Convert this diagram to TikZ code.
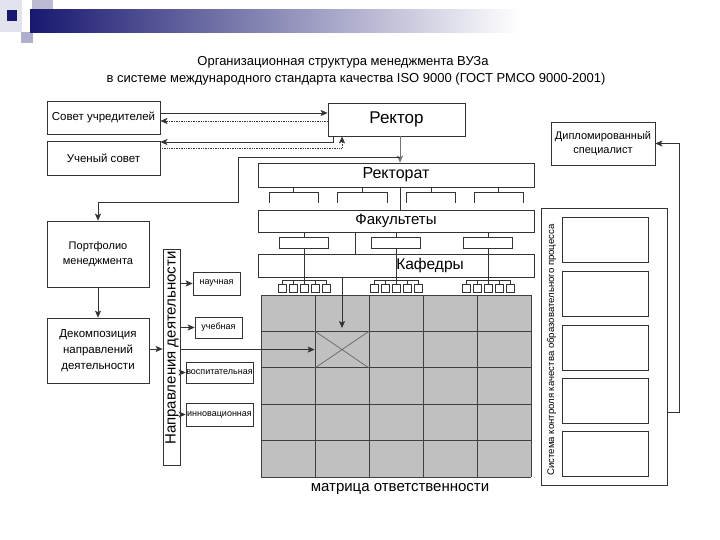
\documentclass[tikz,border=0pt]{standalone}
\usepackage{fontspec}
\setmainfont{Liberation Sans}
\usetikzlibrary{arrows.meta, calc}
\definecolor{deco}{RGB}{24,24,112}
\definecolor{cellgray}{RGB}{192,192,192}
\tikzset{
  box/.style={draw=black!80, line width=0.7pt, inner sep=0pt, align=center},
  band/.style={box, minimum width=276pt},
  tag/.style={box, font=\fontsize{9}{11}\selectfont},
  sq/.style={draw=black!80, line width=0.6pt, minimum size=8pt, inner sep=0pt},
}

\begin{document}
\begin{tikzpicture}[x=1pt, y=-1pt, >={Stealth[length=7pt,width=6pt,inset=1.5pt]}, line width=0.7pt, draw=black!80]
    \useasboundingbox (0,0) rectangle (720,540);

    % Header decoration
    \fill[deco!12] (0,0) rectangle (22,32);
    \fill[deco!30] (32,0) rectangle (53,22);
    \fill[deco!35] (21,32) rectangle (33,43);
    \shade[left color=deco, right color=white] (30,10) rectangle (520,33);
    \fill[deco] (7,10) rectangle (17,21);

    % Title
    \node[font=\fontsize{13}{15}\selectfont] (title1) at (343,62) {Организационная структура менеджмента ВУЗа};
    \node[font=\fontsize{13}{15}\selectfont] (title2) at (356,79) {в системе международного стандарта качества ISO 9000 (ГОСТ РМСО 9000-2001)};

    % Left column
    \node[box, minimum width=113pt, minimum height=33pt, font=\fontsize{11.5}{14}\selectfont] (council) at (103.5,117.5) {Совет учредителей};
    \node[box, minimum width=113pt, minimum height=34pt, font=\fontsize{11.5}{14}\selectfont] (scicouncil) at (103.5,158) {Ученый совет};
    \node[box, minimum width=102pt, minimum height=66pt, font=\fontsize{11}{15}\selectfont] (portfolio) at (98,254) {Портфолио\\менеджмента};
    \node[box, minimum width=102pt, minimum height=65pt, font=\fontsize{11.5}{16}\selectfont] (decomp) at (98,350.5) {Декомпозиция\\направлений\\деятельности};
    \node[box, minimum width=17pt, minimum height=216pt] (dirbar) at (171.5,357.5) {};
    \node[rotate=90, font=\fontsize{15}{17}\selectfont] (dirtext) at (172,348) {Направления деятельности};
    \node[tag, minimum width=47pt, minimum height=23pt] (sci) at (216.5,283.5) {научная};
    \node[tag, minimum width=47pt, minimum height=21pt] (edu) at (218.5,327.5) {учебная};
    \node[tag, minimum width=67pt, minimum height=21pt] (upbr) at (219.5,372.5) {воспитательная};
    \node[tag, minimum width=67pt, minimum height=23pt] (innov) at (219.5,414.5) {инновационная};

    % Rector and bands
    \node[box, minimum width=137pt, minimum height=33pt, font=\fontsize{17}{19}\selectfont] (rector) at (396.5,119.5) {Ректор};
    \node[band, minimum height=24pt, font=\fontsize{16}{18}\selectfont] (rectorate) at (396,175) {Ректорат};
    \node[band, minimum height=22pt, font=\fontsize{15}{17}\selectfont] (faculties) at (396,221) {Факультеты};
    \node[band, minimum height=23pt, font=\fontsize{15.5}{17}\selectfont] (chairs) at (396,265.5) {\hspace*{68pt}Кафедры};

    \foreach \a/\b/\c in {269/318/293, 337/387/362, 406/455/431, 474/523/498}
      \draw (\a,203) |- (\b,192) -- (\b,203) (\c,192) -- (rectorate.south -| \c,0);
    \draw (rectorate.south -| 400,0) -- (faculties.north -| 400,0);
    \draw (faculties.south -| 355,0) -- (chairs.north -| 355,0);

    \foreach \x [count=\i] in {304,396,488} {
      \node[box, minimum width=49pt, minimum height=11pt] (dep\i) at (\x,243) {};
      \draw (faculties.south -| dep\i) -- (dep\i) (dep\i) -- (\x,280);
      \draw (\x-22,280) -- (\x+22,280);
      \foreach \d [count=\j] in {-22,-11,0,11,22} {
        \node[sq] (sq\i\j) at (\x+\d,288) {};
        \draw (\x+\d,280) -- (sq\i\j.north);
      }
    }

    % Responsibility matrix
    \node[fill=cellgray, minimum width=270pt, minimum height=182pt, inner sep=0pt] (resp) at (396,386) {};
    \foreach \x in {261,315,...,531}
      \draw[black!75] (\x,295) -- (\x,477);
    \foreach \y in {295,331.4,367.8,404.2,440.6,477}
      \draw[black!75] (261,\y) -- (531,\y);
    \node[minimum width=54pt, minimum height=36.4pt, inner sep=0pt] (xcell) at (342,349.6) {};
    \draw[black!60] (xcell.north west) -- (xcell.south east) (xcell.south west) -- (xcell.north east);
    \node[font=\fontsize{15}{17}\selectfont] (resplabel) at (400,489) {матрица ответственности};

    % Right column
    \node[box, minimum width=104pt, minimum height=43pt, font=\fontsize{11}{14}\selectfont] (graduate) at (603,143.5) {Дипломированный\\специалист};
    \node[box, minimum width=126pt, minimum height=277pt] (quality) at (604,346.5) {};
    \foreach \y [count=\i] in {240,294,347.5,400.5,453.5}
      \node[box, minimum width=86pt, minimum height=45pt] (q\i) at (605,\y) {};
    \node[rotate=90, font=\fontsize{9.6}{11}\selectfont] (qtext) at (551.5,350) {Система контроля качества образовательного процесса};

    % Connectors
    \draw[->] (council.east |- 0,113) -- (rector.west |- 0,113);
    \draw[->, densely dotted] (rector.west |- 0,121) -- (council.east |- 0,121);
    \draw[->] (rector.south -| 333,0) |- (scicouncil.east |- 0,142);
    \draw[->, densely dotted] (scicouncil.east |- 0,148) -| (rector.south -| 342,0);
    \coordinate (split) at (400,157);
    \draw[->, black!55] (rector.south -| split) -- (rectorate.north -| split);
    \draw[->] (split) -| (238,202) -| (portfolio.north);
    \draw[->] (portfolio) -- (decomp);
    \draw[->] (decomp.east |- 0,349) -- (dirbar.west |- 0,349);
    \draw[->] (dirbar.east |- sci) -- (sci);
    \draw[->] (dirbar.east |- edu) -- (edu);
    \draw[->] (dirbar.east |- upbr) -- (upbr);
    \draw[->] (dirbar.east |- innov) -- (innov);
    \draw[->] (dirbar.east |- xcell) -- (xcell);
    \draw[->, shorten >=3pt] (chairs.south -| xcell) -- (xcell);
    \draw[->] (quality.east |- 0,412) -- ++(12,0) |- (graduate.east);
\end{tikzpicture}
\end{document}
